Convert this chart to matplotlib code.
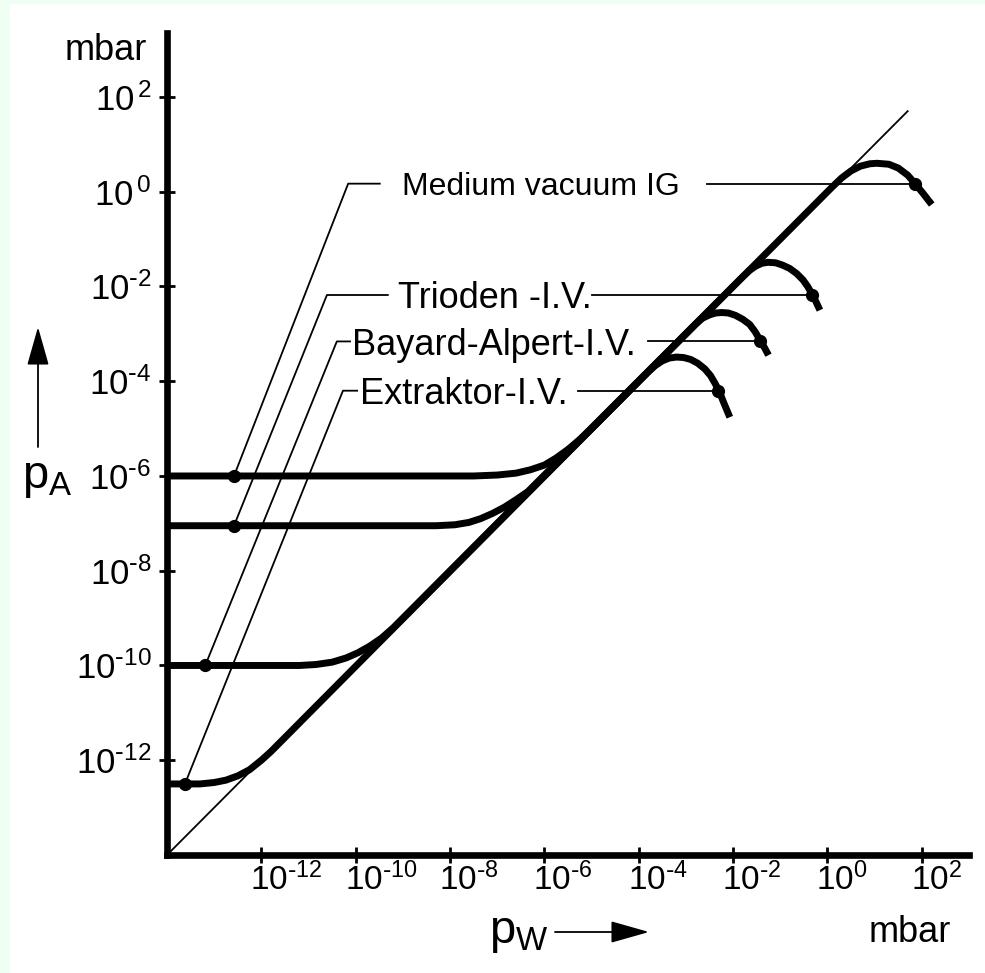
import matplotlib
matplotlib.use("Agg")
import matplotlib.pyplot as plt
import matplotlib.transforms as mtransforms
from matplotlib.patches import Rectangle
import numpy as np

# gauge curves as log10 values (pW, pA in mbar)
names = ["Medium vacuum IG", "Trioden -I.V.", "Bayard-Alpert-I.V.", "Extraktor-I.V."]

medium_x = [-14, -7.5, -7.0, -6.6, -6.3, -6.0, -5.75, -5.5, -5.25, -5.0,
            0.1, 0.3, 0.5, 0.7, 0.9, 1.05, 1.3, 1.5, 1.7, 1.85, 2.03, 2.21]
medium_y = [-6, -6, -5.98, -5.94, -5.87, -5.77, -5.62, -5.44, -5.23, -5.0,
            0.1, 0.29, 0.44, 0.54, 0.59, 0.6, 0.58, 0.5, 0.35, 0.18, -0.04, -0.27]

triode_x = [-14, -8.3, -7.9, -7.6, -7.35, -7.1, -6.85, -6.6, -6.35,
            -1.8, -1.65, -1.52, -1.39, -1.26, -1.1, -0.95, -0.8, -0.65, -0.52, -0.42, -0.32, -0.24, -0.16]
triode_y = [-7.05, -7.05, -7.03, -6.98, -6.9, -6.79, -6.66, -6.5, -6.33,
            -1.8, -1.66, -1.57, -1.51, -1.49, -1.5, -1.55, -1.62, -1.73, -1.86, -2.0, -2.17, -2.33, -2.5]

ba_x = [-14, -11.2, -10.85, -10.5, -10.2, -9.95, -9.7, -9.45, -9.2,
        -2.8, -2.65, -2.5, -2.37, -2.24, -2.1, -1.95, -1.8, -1.65, -1.53, -1.42, -1.33, -1.25]
ba_y = [-10, -10, -9.98, -9.93, -9.84, -9.73, -9.59, -9.42, -9.2,
        -2.8, -2.67, -2.6, -2.56, -2.55, -2.56, -2.61, -2.69, -2.8, -2.96, -3.15, -3.3, -3.45]

extr_x = [-14.0, -13.3, -13.0, -12.75, -12.5, -12.25, -12.0, -11.8, -11.5,
          -3.8, -3.65, -3.5, -3.35, -3.2, -3.05, -2.9, -2.75, -2.6, -2.48, -2.38, -2.3, -2.2, -2.07]
extr_y = [-12.5, -12.5, -12.47, -12.42, -12.33, -12.2, -12.0, -11.82, -11.52,
          -3.8, -3.67, -3.57, -3.51, -3.49, -3.5, -3.54, -3.62, -3.74, -3.88, -4.05, -4.2, -4.45, -4.76]

curves = [(medium_x, medium_y), (triode_x, triode_y), (ba_x, ba_y), (extr_x, extr_y)]

# residual levels and the marked points
levels = [-6.0, -7.05, -10.0, -12.5]
left_dot_x = [-12.58, -12.58, -13.19, -13.62]
right_dot_x = [1.85, -0.32, -1.42, -2.31]
label_y = [0.17, -2.18, -3.16, -4.2]

# ideal line pA = pW
diag = [-14, 1.7]

ticks = [-12, -10, -8, -6, -4, -2, 0, 2]

# leader lines / label anchors (log10 pW)
knee_x = [-10.16, -10.61, -10.4, -10.27]
hline_end_x = [-9.49, -9.32, -10.12, -9.97]
text_x = [-9.02, -9.1, -10.07, -9.9]
rline_start_x = [-2.55, -4.99, -3.8, -5.29]
label_size = [23, 26, 26, 26]

plt.rcParams["font.family"] = ["Liberation Sans", "DejaVu Sans"]
tick_font = ["Liberation Sans Narrow", "Liberation Sans", "DejaVu Sans"]


def power_label(t, gap=False):
    # short hyphen instead of the wide math minus, like the printed figure
    exp = str(t).replace("-", r"\text{-}")
    if gap:
        return r"$\mathregular{10^{\,%s}}$" % exp
    return r"$\mathregular{10^{%s}}$" % exp


W, H = 985, 973
fig = plt.figure(figsize=(W / 100, H / 100), dpi=100)
fig.patch.set_facecolor("#effff4")
fig.patches.append(Rectangle((10 / W, 0), 1, 1 - 4 / H, transform=fig.transFigure,
                             facecolor="white", edgecolor="none", zorder=-5))

ax = fig.add_axes([167 / W, (H - 855) / H, 802 / W, 822 / H])
ax.set_facecolor("none")
ax.set_xscale("log")
ax.set_yscale("log")
ax.set_xlim(1e-14, 1e3)
ax.set_ylim(1e-14, 10 ** 3.35)

for s in ["top", "right"]:
    ax.spines[s].set_visible(False)
for s in ["left", "bottom"]:
    ax.spines[s].set_linewidth(4.8)

ax.minorticks_off()
ax.set_xticks([10.0 ** t for t in ticks])
ax.set_yticks([10.0 ** t for t in ticks])
ax.tick_params(direction="inout", length=12, width=2, color="black", pad=5)
ax.set_xticklabels([])
ax.set_yticklabels([power_label(t, gap=t >= 0) for t in ticks], fontsize=25, family=tick_font)

# x tick labels sit a little right of their ticks
base = mtransforms.blended_transform_factory(ax.transData, ax.transAxes)
xt = mtransforms.offset_copy(base, fig=fig, x=-11, y=-8, units="dots")
for t in ticks:
    ax.text(10.0 ** t, 0, power_label(t), transform=xt,
            ha="left", va="top", fontsize=24, family=tick_font)

# thin ideal line
ax.plot(10.0 ** np.array(diag), 10.0 ** np.array(diag), color="black", lw=1.3, zorder=2)

for i, (cx, cy) in enumerate(curves):
    ax.plot(10.0 ** np.array(cx), 10.0 ** np.array(cy), color="black", lw=5,
            solid_joinstyle="round", solid_capstyle="butt", zorder=3)
    # dots
    ax.plot([10.0 ** left_dot_x[i], 10.0 ** right_dot_x[i]],
            [10.0 ** levels[i], 10.0 ** label_y[i]], "o", color="black", ms=8.5, zorder=4)
    # leader from left dot up to the label
    ax.plot(10.0 ** np.array([left_dot_x[i], knee_x[i], hline_end_x[i]]),
            10.0 ** np.array([levels[i], label_y[i], label_y[i]]),
            color="black", lw=1.3, zorder=2)
    # line from label to the dot on the hump
    ax.plot(10.0 ** np.array([rline_start_x[i], right_dot_x[i]]),
            10.0 ** np.array([label_y[i], label_y[i]]),
            color="black", lw=1.3, zorder=2)
    ax.text(10.0 ** text_x[i], 10.0 ** label_y[i], names[i], fontsize=label_size[i],
            ha="left", va="center_baseline", color="black", zorder=5)

# axis labels and arrows (figure pixels)
fig.text(106 / W, 1 - 50 / H, "mbar", fontsize=26, ha="center", va="center")
fig.text(47 / W, 1 - 478 / H, r"$\mathregular{p_A}$", fontsize=34, ha="center", va="center")
fig.text(519 / W, 1 - 933 / H, r"$\mathregular{p_W}$", fontsize=34, ha="center", va="center")
fig.text(910 / W, 1 - 933 / H, "mbar", fontsize=26, ha="center", va="center")

arrow = dict(arrowstyle="-|>,head_length=2.4,head_width=0.68", mutation_scale=10,
             color="black", lw=1.3, shrinkA=0, shrinkB=0)
ax.annotate("", xy=(38, H - 327), xytext=(38, H - 447), xycoords="figure pixels",
            textcoords="figure pixels", arrowprops=arrow, annotation_clip=False)
ax.annotate("", xy=(649, H - 932), xytext=(555, H - 932), xycoords="figure pixels",
            textcoords="figure pixels", arrowprops=arrow, annotation_clip=False)

fig.savefig("out.png", dpi=100)
